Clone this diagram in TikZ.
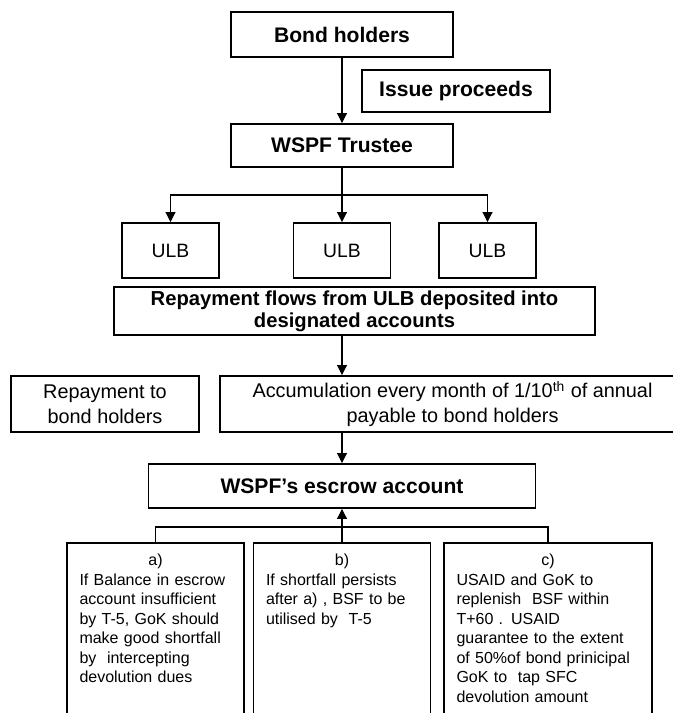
\documentclass[tikz,border=0pt]{standalone}
\usepackage{fontspec}
\setmainfont{Liberation Sans}
\usepackage{tikz}
\usetikzlibrary{positioning,calc,arrows.meta}

\begin{document}
\begin{tikzpicture}[
    box/.style={draw, line width=1.1pt, inner sep=0pt, align=center},
    title/.style={box, font=\fontsize{12}{14}\selectfont\bfseries},
    plain/.style={box, font=\fontsize{11.3}{14.2}\selectfont},
    ulbbox/.style={box, minimum width=1.94cm, minimum height=1.1cm, font=\fontsize{11}{13}\selectfont},
    casebox/.style={draw, line width=1.1pt, anchor=north, inner xsep=0.25cm, inner ysep=0.22cm,
      align=left, text depth=3.6cm, font=\fontsize{9.1}{11.1}\selectfont},
    arr/.style={line width=0.6pt, -{Triangle[length=0.2cm, width=0.2cm]}},
    link/.style={line width=0.6pt}
  ]
  \useasboundingbox (0,0) rectangle (13.46,14.26);

  % issue side
  \node[title, minimum width=4.44cm, minimum height=0.9cm] (bond) at (6.84,13.57) {Bond holders};
  \node[title, minimum width=3.76cm, minimum height=0.84cm] (issue) at (9.12,12.44) {Issue proceeds};
  \node[title, minimum width=4.44cm, minimum height=0.86cm] (trustee) at (6.84,11.35) {WSPF Trustee};
  \draw[arr] (bond) -- (trustee);

  % lending to ULBs
  \coordinate (split) at (6.84,10.36);
  \node[ulbbox] (ulbA) at (3.41,9.25) {ULB};
  \node[ulbbox] (ulbB) at (6.84,9.25) {ULB};
  \node[ulbbox] (ulbC) at (9.75,9.25) {ULB};
  \draw[link] (trustee) -- (split);
  \draw[arr] (split) -| (ulbA);
  \draw[arr] (split) -- (ulbB);
  \draw[arr] (split) -| (ulbC);

  % repayment
  \node[box, minimum width=9.62cm, minimum height=0.96cm, font=\fontsize{11.5}{12.5}\selectfont\bfseries] (flows) at (7.09,8.04)
    {Repayment flows from ULB deposited into\\designated accounts};
  \node[plain, minimum width=3.76cm, minimum height=1.12cm] (repay) at (2.10,6.18) {Repayment to\\bond holders};
  \node[plain, minimum width=9.3cm, minimum height=1.12cm] (accum) at (9.05,6.18)
    {Accumulation every month of 1/10\textsuperscript{th} of annual\\payable to bond holders};
  \node[title, minimum width=7.74cm, minimum height=0.88cm] (escrow) at (6.84,4.54) {WSPF’s escrow account};
  \draw[arr] (flows.south -| escrow) -- (accum.north -| escrow);
  \draw[arr] (accum.south -| escrow) -- (escrow);

  % shortfall cases
  \node[casebox, text width=3.04cm] (caseA) at (3.11,3.42)
    {\hfill a)\hfill\null\\If Balance in escrow\\account insufficient\\by T-5, GoK should\\make good shortfall\\by\ \ intercepting\\devolution dues};
  \node[casebox, text width=3.04cm] (caseB) at (6.84,3.42)
    {\hfill b)\hfill\null\\If shortfall persists\\after a) , BSF to be\\utilised by\ \ T-5};
  \node[casebox, text width=3.66cm] (caseC) at (10.96,3.42)
    {\hfill c)\hfill\null\\USAID and GoK to\\replenish\ \ BSF within\\T+60 . USAID\\guarantee to the extent\\of 50\%of bond prinicipal\\GoK to\ \ tap SFC\\devolution amount};
  \coordinate (join) at (6.84,3.72);
  \draw[link] (caseA.north) |- (join) -| (caseC.north);
  \draw[arr] (caseB.north) -- (escrow.south);
\end{tikzpicture}
\end{document}
